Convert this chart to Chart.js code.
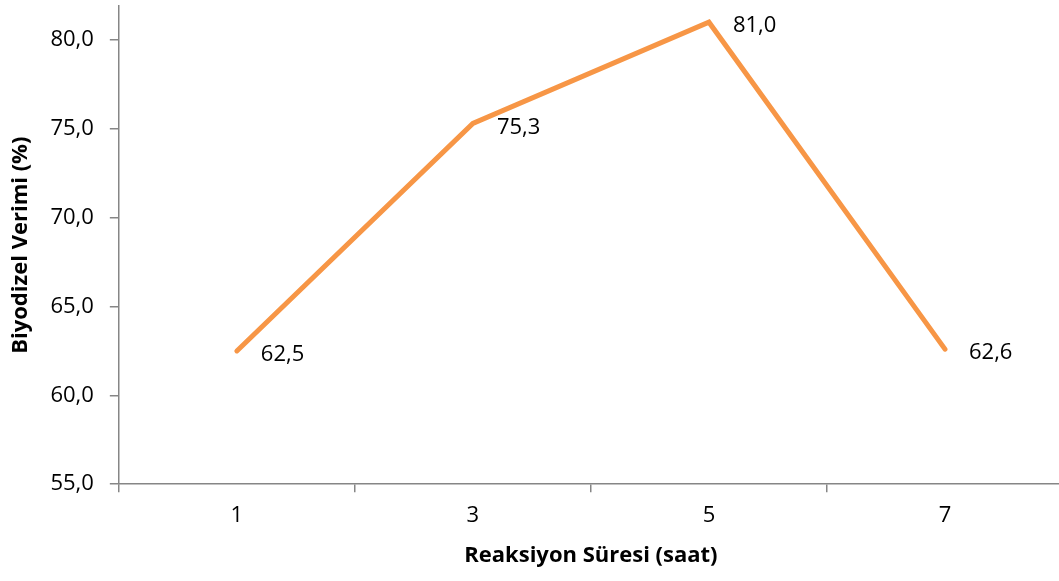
<!DOCTYPE html>
<html>
<head>
<meta charset="utf-8">
<script src="https://cdn.jsdelivr.net/npm/chart.js@4"></script>
<style>
  html, body { margin: 0; padding: 0; background: #fff; overflow: hidden; }
  #wrap { width: 1063px; height: 604px; margin-top: -23px; }
</style>
</head>
<body>
<div id="wrap"><canvas id="grafik"></canvas></div>
<script>
const sureler = ["1", "3", "5", "7"];
const verim = [62.5, 75.3, 81.0, 62.6];
const yTikler = [55, 60, 65, 70, 75, 80];

const eksenRengi = "#868686";
const yazi = "'Open Sans', 'DejaVu Sans', sans-serif";

function virgullu(v) {
  return v.toFixed(1).replace(".", ",");
}

// noktalarin sagina deger etiketleri
const degerEtiketi = {
  id: "degerEtiketi",
  afterDatasetsDraw(chart) {
    const ctx = chart.ctx;
    const meta = chart.getDatasetMeta(0);
    ctx.save();
    ctx.font = "22px " + yazi;
    ctx.fillStyle = "#000";
    ctx.textAlign = "left";
    ctx.textBaseline = "middle";
    meta.data.forEach((p, i) => {
      ctx.fillText(virgullu(verim[i]), p.x + 24, p.y + 4);
    });
    ctx.restore();
  }
};

new Chart(document.getElementById("grafik"), {
  type: "line",
  data: {
    labels: sureler,
    datasets: [{
      data: verim,
      borderColor: "#F79646",
      borderWidth: 5,
      pointRadius: 0,
      tension: 0,
      borderCapStyle: "round",
      borderJoinStyle: "miter"
    }]
  },
  options: {
    responsive: true,
    maintainAspectRatio: false,
    animation: false,
    layout: { padding: { top: 4, left: 4, right: 0, bottom: 8 } },
    plugins: { legend: { display: false }, tooltip: { enabled: false } },
    scales: {
      x: {
        offset: true,
        grid: { offset: true, drawOnChartArea: false, drawTicks: true, tickLength: 8, color: eksenRengi, lineWidth: 1.5 },
        border: { color: eksenRengi, width: 1.5 },
        ticks: { color: "#000", font: { family: yazi, size: 22 }, padding: 10 },
        title: { display: true, text: "Reaksiyon Süresi (saat)", color: "#000", font: { family: yazi, size: 22, weight: "bold" }, padding: { top: 4 } }
      },
      y: {
        min: 55,
        max: 81.9,
        afterBuildTicks(axis) {
          axis.ticks = yTikler.map(v => ({ value: v }));
        },
        grid: { drawOnChartArea: false, drawTicks: true, tickLength: 9, color: eksenRengi, lineWidth: 1.5 },
        border: { color: eksenRengi, width: 1.5 },
        ticks: { color: "#000", font: { family: yazi, size: 22 }, padding: 16, callback: v => virgullu(v) },
        title: { display: true, text: "Biyodizel Verimi (%)", color: "#000", font: { family: yazi, size: 22, weight: "bold" }, padding: { bottom: 0 } }
      }
    }
  },
  plugins: [degerEtiketi]
});
</script>
</body>
</html>
